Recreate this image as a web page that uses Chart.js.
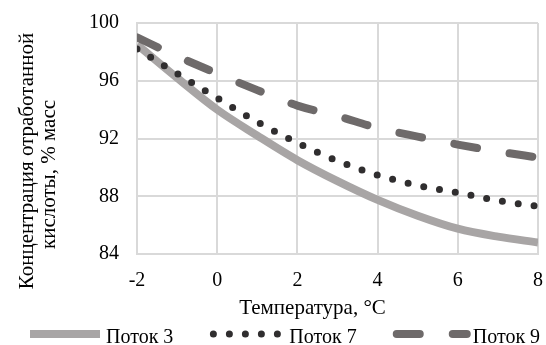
<!DOCTYPE html>
<html><head><meta charset="utf-8">
<script src="https://cdn.jsdelivr.net/npm/chart.js@4.4.1/dist/chart.umd.min.js"></script>
<style>html,body{margin:0;padding:0;background:#fff}</style>
</head><body>
<canvas id="c" width="546" height="345"></canvas>
<script>
// ---- data ----
const temperatures = [-2, -1, 0, 1, 2, 3, 4, 5, 6, 7, 8];
const potok3 = [98.5, 96.2, 94.0, 92.2, 90.5, 89.05, 87.75, 86.65, 85.75, 85.2, 84.8];
const potok7 = [98.2, 96.5, 94.8, 93.15, 91.7, 90.45, 89.47, 88.75, 88.25, 87.7, 87.3];
const potok9 = [99.0, 97.7, 96.5, 95.35, 94.28, 93.55, 92.73, 92.13, 91.58, 91.1, 90.68];
const seriesNames = ['Поток 3', 'Поток 7', 'Поток 9'];
const xTickValues = [-2, 0, 2, 4, 6, 8];
const yTickValues = [84, 88, 92, 96, 100];
const xTitle = 'Температура, °C';
const yTitle = ['Концентрация отработанной', 'кислоты, % масс'];

const FONT = '"Liberation Serif", "Times New Roman", serif';
const toPts = arr => temperatures.map((t, i) => ({x: t, y: arr[i]}));

const titlesPlugin = {
  id: 'axisTitles',
  afterDraw(chart) {
    const c = chart.ctx;
    c.save();
    c.font = '21px ' + FONT;
    c.fillStyle = '#000';
    c.textAlign = 'center';
    c.textBaseline = 'alphabetic';
    const pos = [[32.5, 161], [55, 174.5]];
    yTitle.forEach((t, i) => {
      c.save();
      c.translate(pos[i][0], pos[i][1]);
      c.rotate(-Math.PI / 2);
      c.fillText(t, 0, 0);
      c.restore();
    });
    c.fillText(xTitle, 312.5, 314);
    c.restore();
  }
};

const legendPlugin = {
  id: 'lineLegend',
  afterDraw(chart) {
    const c = chart.ctx;
    c.save();
    c.font = '20px ' + FONT;
    const sample = 70, gapText = 6, gapItem = 40, lineY = 334, textY = 343;
    let x = 30;
    chart.data.datasets.forEach(ds => {
      c.save();
      c.strokeStyle = ds.borderColor;
      c.lineWidth = ds.borderWidth;
      c.lineCap = ds.borderCapStyle || 'butt';
      c.setLineDash(ds.borderDash || []);
      c.beginPath();
      c.moveTo(x, lineY);
      c.lineTo(x + sample, lineY);
      c.stroke();
      c.restore();
      c.fillStyle = '#000';
      c.textAlign = 'left';
      c.textBaseline = 'alphabetic';
      c.fillText(ds.label, x + sample + gapText, textY);
      x += sample + gapText + c.measureText(ds.label).width + gapItem;
    });
    c.restore();
  }
};

new Chart(document.getElementById('c'), {
  type: 'line',
  data: {
    datasets: [
      {label: seriesNames[0], data: toPts(potok3), borderColor: '#a8a5a5', borderWidth: 8,
       borderCapStyle: 'butt', pointRadius: 0, cubicInterpolationMode: 'monotone', order: 3},
      {label: seriesNames[1], data: toPts(potok7), borderColor: '#302e2f', borderWidth: 7,
       borderDash: [0, 16], borderCapStyle: 'round', pointRadius: 0, cubicInterpolationMode: 'monotone', order: 2},
      {label: seriesNames[2], data: toPts(potok9), borderColor: '#6e6a6a', borderWidth: 8,
       borderDash: [23, 33], borderCapStyle: 'round', pointRadius: 0, cubicInterpolationMode: 'monotone', order: 1}
    ]
  },
  options: {
    responsive: false,
    animation: false,
    devicePixelRatio: 1,
    layout: {padding: {top: 23, right: 8, left: 0, bottom: 0}},
    scales: {
      x: {
        type: 'linear', min: -2, max: 8,
        afterBuildTicks: s => { s.ticks = xTickValues.map(v => ({value: v})); },
        afterFit: s => { s.height = 91; s.paddingLeft = 0; s.paddingRight = 0; },
        ticks: {color: '#000', font: {family: FONT, size: 20}, padding: 15},
        grid: {color: '#d9d9d9', lineWidth: 2, drawTicks: false},
        border: {color: '#d9d9d9', width: 2}
      },
      y: {
        min: 84, max: 100,
        afterBuildTicks: s => { s.ticks = yTickValues.map(v => ({value: v})); },
        afterFit: s => { s.width = 137; s.paddingTop = 0; s.paddingBottom = 0; },
        ticks: {color: '#000', font: {family: FONT, size: 20}, padding: 18},
        grid: {color: '#d9d9d9', lineWidth: 2, drawTicks: false},
        border: {color: '#d9d9d9', width: 2}
      }
    },
    plugins: {legend: {display: false}, tooltip: {enabled: false}}
  },
  plugins: [titlesPlugin, legendPlugin]
});
</script>
</body></html>
